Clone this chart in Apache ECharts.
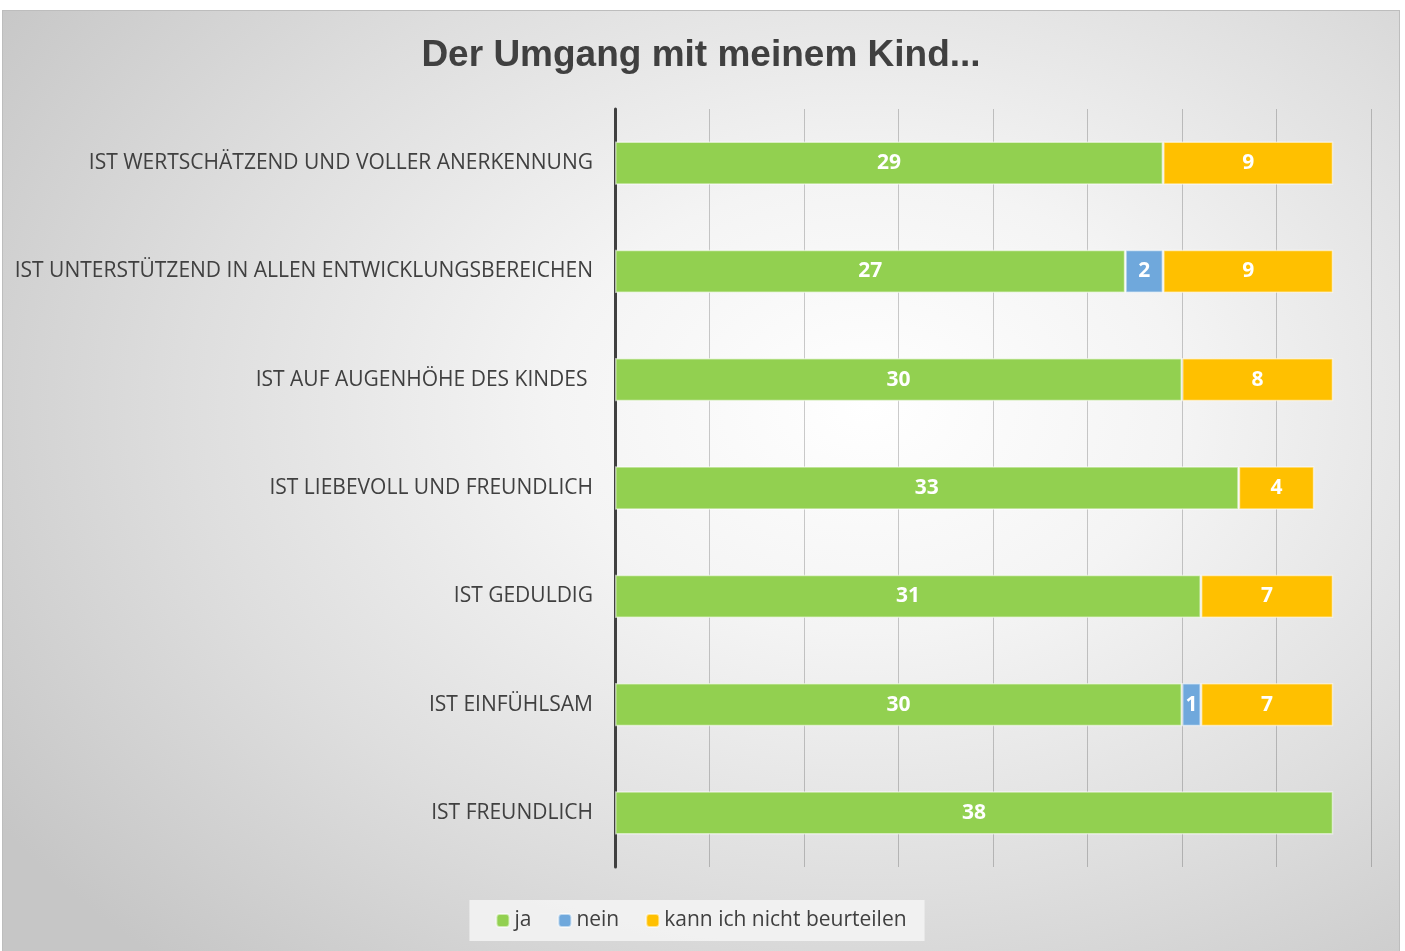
<!DOCTYPE html>
<html><head><meta charset="utf-8">
<script src="https://cdn.jsdelivr.net/npm/echarts@6/dist/echarts.min.js"></script>
<style>
html,body{margin:0;padding:0;background:#fff;width:1405px;height:951px;overflow:hidden}
#frame{position:absolute;left:2px;top:10px;width:1398px;height:941px;box-sizing:border-box;border:1px solid #bdbdbd;border-bottom:none;
background:radial-gradient(ellipse 75% 80% at 62% 42%, #ffffff 0%, #f4f4f4 30%, #dedede 65%, #c6c6c6 100%);}
#chart{position:absolute;left:0;top:0;width:1396px;height:940px}
</style></head>
<body>
<div id="frame"><div id="chart"></div></div>
<script>
const categories = [
  'IST WERTSCHÄTZEND UND VOLLER ANERKENNUNG',
  'IST UNTERSTÜTZEND IN ALLEN ENTWICKLUNGSBEREICHEN',
  'IST AUF AUGENHÖHE DES KINDES ',
  'IST LIEBEVOLL UND FREUNDLICH',
  'IST GEDULDIG',
  'IST EINFÜHLSAM',
  'IST FREUNDLICH'
];
const seriesNames = ['ja', 'nein', 'kann ich nicht beurteilen'];
const jaValues = [29, 27, 30, 33, 31, 30, 38];
const neinValues = [null, 2, null, null, null, 1, null];
const kannValues = [9, 9, 8, 4, 7, 7, null];
const colors = ['#92d050', '#6fa8dc', '#ffc000'];

const chart = echarts.init(document.getElementById('chart'));
const mk = (name, data, color) => ({
  name, type: 'bar', stack: 'total', data, barWidth: '40%',
  itemStyle: { color, borderColor: 'rgba(255,255,255,0.55)', borderWidth: 1.5 },
  label: { show: true, position: 'inside', color: '#fff', fontFamily: 'Open Sans', fontWeight: 'bold', fontSize: 21 },
  emphasis: { disabled: true }
});
chart.setOption({
  animation: false,
  title: { text: 'Der Umgang mit meinem Kind...', left: 'center', top: 21,
    textStyle: { fontFamily: 'Liberation Sans', fontWeight: 'bold', fontSize: 37, color: '#404040' } },
  grid: { left: 612, right: 28, top: 98, bottom: 84, containLabel: false },
  xAxis: { type: 'value', min: 0, max: 40, interval: 5,
    axisLabel: { show: false }, axisLine: { show: false }, axisTick: { show: false },
    splitLine: { lineStyle: { color: 'rgba(0,0,0,0.2)', width: 1 } } },
  yAxis: { type: 'category', data: categories, inverse: true,
    axisLine: { lineStyle: { color: '#404040', width: 3 } }, axisTick: { show: false },
    axisLabel: { color: '#404040', fontFamily: 'Open Sans', fontSize: 21, margin: 22 } },
  legend: { bottom: 10, left: 'center', data: seriesNames, itemWidth: 13, itemHeight: 13, itemGap: 26,
    backgroundColor: 'rgba(245,245,245,0.85)', padding: [10, 18, 10, 26],
    textStyle: { fontFamily: 'Open Sans', fontSize: 21, color: '#404040' } },
  series: [
    mk(seriesNames[0], jaValues, colors[0]),
    mk(seriesNames[1], neinValues, colors[1]),
    mk(seriesNames[2], kannValues, colors[2])
  ]
});
</script>
</body></html>
